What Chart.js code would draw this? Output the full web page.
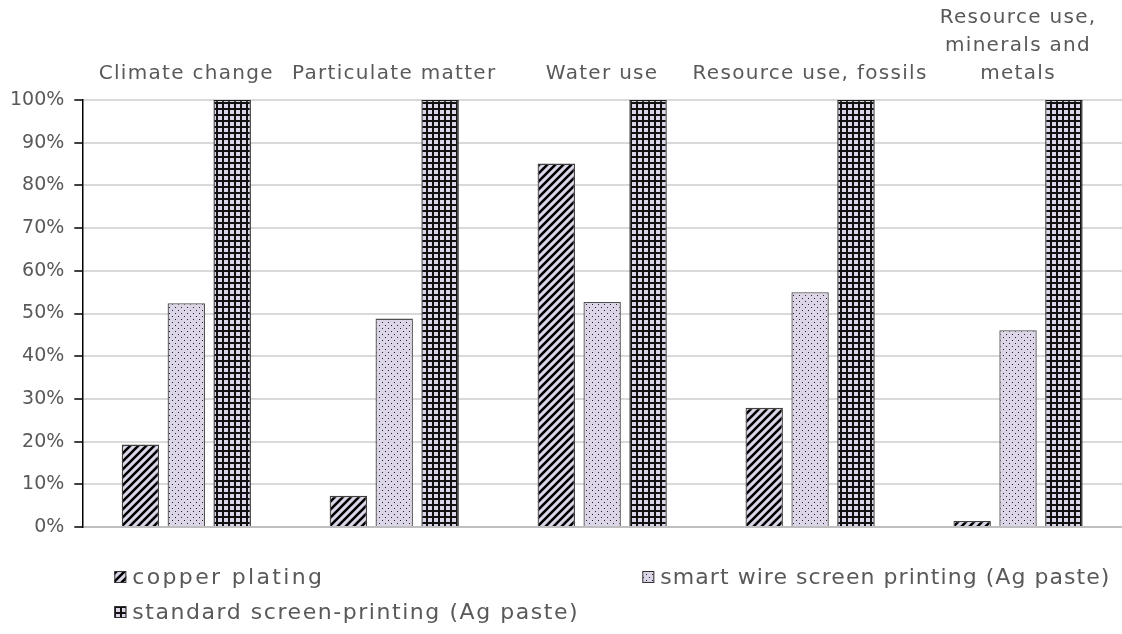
<!DOCTYPE html>
<html>
<head>
<meta charset="utf-8">
<script src="https://cdn.jsdelivr.net/npm/chart.js@4/dist/chart.umd.min.js"></script>
<style>
  html, body { margin: 0; padding: 0; background: #ffffff; }
  #wrap { width: 1122px; height: 634px; position: relative; }
</style>
</head>
<body>
<div id="wrap"><canvas id="c" width="1122" height="634"></canvas></div>
<script>
// ---- data ----
const categories = [
  'Climate change',
  'Particulate matter',
  'Water use',
  'Resource use, fossils',
  ['Resource use,', 'minerals and', 'metals']
];
const seriesNames = [
  'copper plating',
  'smart wire screen printing (Ag paste)',
  'standard screen-printing (Ag paste)'
];
const copperPlating = [19.3, 7.3, 85.1, 27.9, 1.4];
const smartWirePrinting = [52.4, 48.8, 52.7, 55.0, 46.1];
const standardPrinting = [100, 100, 100, 100, 100];
const yTickValues = [0, 10, 20, 30, 40, 50, 60, 70, 80, 90, 100];

// ---- patterns ----
const LAV = '#dcd5e8';
function makeTile(size, draw) {
  const t = document.createElement('canvas');
  t.width = size; t.height = size;
  const g = t.getContext('2d');
  g.fillStyle = LAV; g.fillRect(0, 0, size, size);
  draw(g, size);
  return document.getElementById('c').getContext('2d').createPattern(t, 'repeat');
}
const stripePattern = makeTile(8, (g, s) => {
  g.strokeStyle = '#000'; g.lineWidth = 2.6; g.lineCap = 'square';
  g.beginPath();
  g.moveTo(-2, s + 2); g.lineTo(s + 2, -2);
  g.moveTo(-2, 2); g.lineTo(2, -2);
  g.moveTo(s - 2, s + 2); g.lineTo(s + 2, s - 2);
  g.stroke();
});
const dotPattern = makeTile(6, (g, s) => {
  g.fillStyle = '#222';
  g.fillRect(1, 1, 1, 1);
  g.fillRect(4, 4, 1, 1);
});
const gridPattern = makeTile(6, (g, s) => {
  g.fillStyle = '#111';
  g.fillRect(0, 0, s, 2);
  g.fillRect(0, 0, 2, s);
});
const patterns = [stripePattern, dotPattern, gridPattern];
const borders = ['#404040', '#505050', '#1a1a1a'];

const FONT = "'DejaVu Sans', sans-serif";
const TXT = '#595959';

// widen the category labels a little (the original uses a wide geometric face)
const spacingPlugin = {
  id: 'xLabelSpacing',
  afterLayout(chart) {
    const sx = chart.scales.x;
    if (sx && !sx._spacedLabels) {
      const orig = sx.drawLabels.bind(sx);
      sx.drawLabels = function (area) {
        const ctx = this.ctx;
        ctx.letterSpacing = '1.3px';
        orig(area);
        ctx.letterSpacing = '0px';
      };
      sx._spacedLabels = true;
    }
  }
};

// ---- custom legend (two columns, like the original) ----
const legendTextWidths = [192, 450, 447];
const legendPlugin = {
  id: 'sideLegend',
  afterDraw(chart) {
    const ctx = chart.ctx;
    const a = chart.chartArea;
    const items = [
      { i: 0, x: a.left + 32, y: 577 },
      { i: 1, x: a.left + 560, y: 577 },
      { i: 2, x: a.left + 32, y: 612 }
    ];
    ctx.save();
    ctx.font = '22px ' + FONT;
    ctx.textBaseline = 'middle';
    ctx.textAlign = 'left';
    items.forEach(it => {
      const ds = chart.data.datasets[it.i];
      ctx.fillStyle = ds.backgroundColor;
      ctx.fillRect(it.x, it.y - 6, 12, 12);
      ctx.strokeStyle = '#333';
      ctx.lineWidth = 1;
      ctx.strokeRect(it.x + 0.5, it.y - 5.5, 11, 11);
      ctx.letterSpacing = '0px';
      const w = ctx.measureText(ds.label).width;
      const sp = Math.max(0, (legendTextWidths[it.i] - w) / ds.label.length);
      ctx.letterSpacing = sp.toFixed(2) + 'px';
      ctx.fillStyle = TXT;
      ctx.fillText(ds.label, it.x + 18, it.y + 1);
    });
    ctx.letterSpacing = '0px';
    ctx.restore();
  }
};

new Chart(document.getElementById('c'), {
  type: 'bar',
  data: {
    labels: categories,
    datasets: [copperPlating, smartWirePrinting, standardPrinting].map((d, i) => ({
      label: seriesNames[i],
      data: d,
      backgroundColor: patterns[i],
      borderColor: borders[i],
      borderWidth: 1.3,
      barPercentage: 0.815,
      categoryPercentage: 0.662
    }))
  },
  options: {
    responsive: false,
    animation: false,
    layout: { padding: { top: 0, bottom: 107, left: 0, right: 0 } },
    plugins: {
      legend: { display: false },
      tooltip: { enabled: false }
    },
    scales: {
      x: {
        position: 'top',
        grid: { display: false },
        border: { display: false },
        ticks: {
          color: TXT,
          font: { family: FONT, size: 20, lineHeight: 1.4 },
          padding: 4,
          maxRotation: 0,
          autoSkip: false
        }
      },
      y: {
        min: 0, max: 100,
        afterBuildTicks: s => { s.ticks = yTickValues.map(v => ({ value: v })); },
        border: { display: true, color: '#000', width: 1.5 },
        grid: {
          color: ctx => ctx.index === 0 ? '#bfbfbf' : '#d9d9d9',
          lineWidth: 2,
          tickColor: '#000',
          tickWidth: 1.5,
          tickLength: 8
        },
        ticks: {
          color: TXT,
          font: { family: FONT, size: 19 },
          padding: 10,
          callback: v => v + '%'
        }
      }
    }
  },
  plugins: [spacingPlugin, legendPlugin]
});
</script>
</body>
</html>
